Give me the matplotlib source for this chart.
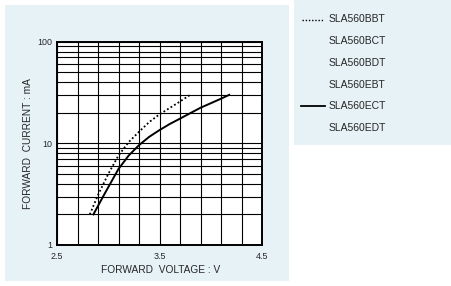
import numpy as np
import matplotlib
matplotlib.use("Agg")
import matplotlib.pyplot as plt
from matplotlib.patches import Rectangle
from matplotlib.ticker import FixedLocator, NullFormatter

plt.rcParams['font.family'] = ['Liberation Sans', 'DejaVu Sans']

# Forward voltage (V) vs forward current (mA)
bbt_voltage = [2.82, 2.9, 3.0, 3.1, 3.2, 3.3, 3.4, 3.5, 3.6, 3.7, 3.8]
bbt_current = [2.0, 3.1, 5.0, 7.6, 10.3, 13.0, 16.2, 19.3, 22.3, 25.8, 30.0]

ect_voltage = [2.855, 2.95, 3.0, 3.1, 3.2, 3.3, 3.4, 3.5, 3.6, 3.7, 3.8, 3.9, 4.0, 4.1, 4.18]
ect_current = [2.0, 3.0, 3.7, 5.6, 7.6, 9.6, 11.6, 13.5, 15.5, 17.5, 19.8, 22.4, 24.8, 27.5, 30.0]

legend_labels = ["SLA560BBT", "SLA560BCT", "SLA560BDT", "SLA560EBT", "SLA560ECT", "SLA560EDT"]
legend_styles = [":", None, None, None, "-", None]

x_ticks = [2.5, 3.5, 4.5]
x_grid = [2.5, 2.7, 2.9, 3.1, 3.3, 3.5, 3.7, 3.9, 4.1, 4.3, 4.5]
y_ticks = [1, 10, 100]
y_tick_labels = ["1", "10", "100"]

W, H = 452, 286
panel_color = "#e7f2f7"
text_color = "#262626"


def fx(px):
    return px / W


def fy(py):
    return 1 - py / H


fig = plt.figure(figsize=(W / 100, H / 100), dpi=100)

# background layer in pixel coordinates
bg = fig.add_axes([0, 0, 1, 1], zorder=0)
bg.set_xlim(0, W)
bg.set_ylim(H, 0)
bg.axis("off")
bg.add_patch(Rectangle((5, 5), 284, 276, facecolor=panel_color, edgecolor="none"))
bg.add_patch(Rectangle((294, 0), 158, 145, facecolor=panel_color, edgecolor="none"))

# legend (manual, to match the list layout)
for i, (label, style) in enumerate(zip(legend_labels, legend_styles)):
    y = 19.5 + i * 21.7
    if style == ":":
        bg.plot([302, 324], [y, y], color="black", lw=1.0, linestyle=(0, (1, 1.3)))
    elif style == "-":
        bg.plot([301, 325], [y, y], color="black", lw=1.3)
    bg.text(328.5, y, label, fontsize=7.5, color=text_color, ha="left", va="center")

# main chart
left, right, top, bottom = 57, 262, 41.7, 245
ax = fig.add_axes([fx(left), fy(bottom), (right - left) / W, (bottom - top) / H], zorder=1)
ax.set_facecolor("white")

ax.plot(bbt_voltage, bbt_current, color="black", lw=1.3, linestyle=(0, (1, 1.3)))
ax.plot(ect_voltage, ect_current, color="black", lw=1.4)

ax.set_yscale("log")
ax.set_xlim(2.5, 4.5)
ax.set_ylim(1, 100)

ax.xaxis.set_major_locator(FixedLocator(x_ticks))
ax.xaxis.set_minor_locator(FixedLocator(x_grid))
ax.xaxis.set_minor_formatter(NullFormatter())
ax.set_xticklabels([f"{v:.1f}" for v in x_ticks])

minor_y = [m * d for d in (1, 10) for m in range(2, 10)]
ax.yaxis.set_major_locator(FixedLocator(y_ticks))
ax.yaxis.set_minor_locator(FixedLocator(minor_y))
ax.yaxis.set_minor_formatter(NullFormatter())
ax.set_yticklabels(y_tick_labels)

ax.grid(True, which="both", color="black", lw=0.8)
ax.tick_params(which="both", length=0, labelsize=6.4, labelcolor=text_color)
ax.tick_params(axis="y", pad=3.4)
ax.tick_params(axis="x", pad=4.8)
for sp in ax.spines.values():
    sp.set_linewidth(1.4)
    sp.set_color("black")

fig.text(fx(160.5), fy(269.7), "FORWARD  VOLTAGE : V", fontsize=7.3, color=text_color,
         ha="center", va="center")
fig.text(fx(28.5), fy(144), "FORWARD  CURRENT : mA", fontsize=7.3, color=text_color,
         ha="center", va="center", rotation=90)

fig.savefig("out.png", dpi=100, facecolor="white")
